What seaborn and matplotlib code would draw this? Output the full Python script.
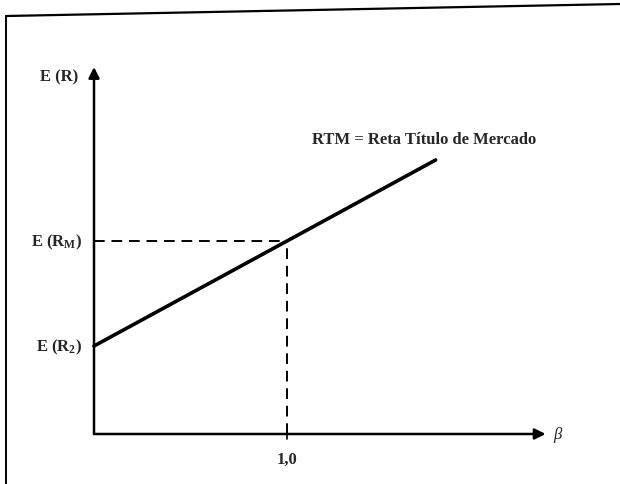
import matplotlib
matplotlib.use("Agg")
import matplotlib.pyplot as plt
import seaborn as sns
import pandas as pd
from matplotlib.lines import Line2D

# Data (beta, expected return) for the security market line
beta = [0.0, 1.0, 1.77]
expected_return = [0.88, 1.93, 2.74]
market_beta = 1.0
market_return = 1.93
rf_return = 0.88
tick_label = "1,0"
line_label = "RTM = Reta Título de Mercado"

sns.set_theme(style="white")
plt.rcParams['font.family'] = ['Liberation Serif', 'DejaVu Serif']
plt.rcParams['mathtext.fontset'] = 'custom'
plt.rcParams['mathtext.rm'] = 'Liberation Serif:bold'
plt.rcParams['mathtext.it'] = 'Liberation Serif:italic'
plt.rcParams['mathtext.bf'] = 'Liberation Serif:bold'

df = pd.DataFrame({"beta": beta, "er": expected_return})

fig = plt.figure(figsize=(6.2, 4.85), dpi=100)
ax = fig.add_axes([0, 0, 1, 1])
ax.set_xlim(-94 / 193, (620 - 94) / 193)
ax.set_ylim(-0.50, 4.35)
ax.axis("off")

sns.lineplot(data=df, x="beta", y="er", ax=ax, color="black", lw=2.6, legend=False)

# axes with arrows
ax.annotate("", xy=(2.34, 0), xytext=(0, 0),
            arrowprops=dict(arrowstyle="-|>", lw=1.8, color="black", mutation_scale=16, shrinkA=0, shrinkB=0))
ax.annotate("", xy=(0, 3.67), xytext=(0, 0),
            arrowprops=dict(arrowstyle="-|>", lw=1.8, color="black", mutation_scale=16, shrinkA=0, shrinkB=0))

# dashed guides
ax.plot([0, market_beta], [market_return, market_return], color="black", lw=1.4, ls=(0, (5.5, 3.5)))
ax.plot([market_beta, market_beta], [0, market_return], color="black", lw=1.4, ls=(0, (5.5, 3.5)))
ax.plot([market_beta, market_beta], [-0.05, 0.03], color="black", lw=1.2)

fs = 12
ax.text(-0.08, 3.58, "E (R)", ha="right", va="center", fontsize=fs, fontweight="bold")
ax.text(-0.06, market_return, r"E (R$_{\mathrm{M}}$)", ha="right", va="center", fontsize=fs, fontweight="bold")
ax.text(-0.06, rf_return, r"E (R$_{\mathrm{2}}$)", ha="right", va="center", fontsize=fs, fontweight="bold")
ax.text(market_beta, -0.25, tick_label, ha="center", va="center", fontsize=fs, fontweight="bold")
ax.text(2.38, 0.0, "β", ha="left", va="center", fontsize=fs, fontstyle="italic")
ax.text(1.13, 2.95, line_label, ha="left", va="center", fontsize=fs, fontweight="bold")

# frame around the figure
W, H = 620, 485
fig.add_artist(Line2D([6 / W, 1.0], [1 - 17 / H, 1 - 5 / H], color="black", lw=1.6, transform=fig.transFigure))
fig.add_artist(Line2D([6 / W, 6 / W], [1 - 17 / H, 0], color="black", lw=1.4, transform=fig.transFigure))

fig.savefig("out.png", dpi=100, facecolor="white")
